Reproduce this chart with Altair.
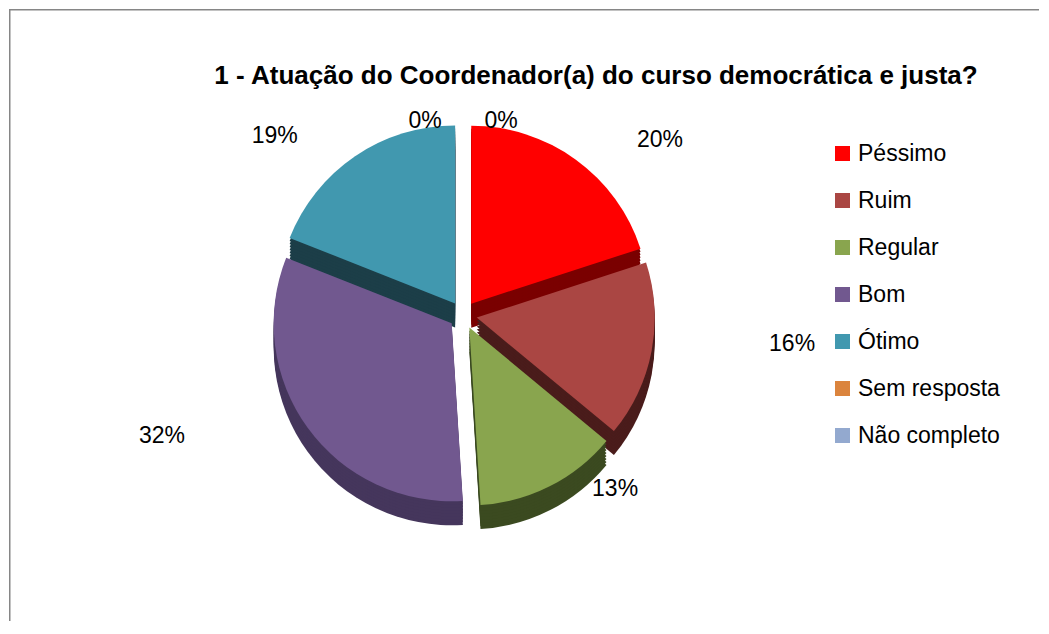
import altair as alt
import pandas as pd

# ---- data ----
categories = ["Péssimo", "Ruim", "Regular", "Bom", "Ótimo", "Sem resposta", "Não completo"]
percentages = [20, 16, 13, 32, 19, 0, 0]
colors = ["#FF0000", "#AA4643", "#89A54E", "#71588F", "#4198AF", "#DB843D", "#93A9CF"]
side_colors = ["#7A0000", "#4A1C1B", "#3B4A20", "#45365C", "#1C3E48", "#8A4F22", "#5A6A85"]
labels = [f"{p}%" for p in percentages]
title_text = "1 - Atuação do Coordenador(a) do curso democrática e justa?"

df = pd.DataFrame({
    "cat": categories,
    "value": percentages,
    "idx": list(range(len(categories))),
    "side": side_colors,
    "label": labels,
})

W, H = 1030, 612
CX, CY = 454, 306      # pie centre (px)
R = 178                # pie radius
EXPLODE = 14           # slice explosion distance
DEPTH = 24             # fake 3D thickness
LCX, LCY, LRX, LRY = 454, 297, 335, 205   # label ellipse
FONT = "Liberation Sans"

theta_scale = alt.Scale(domain=[0, 100], range=[0, 6.283185307])

base = (
    alt.Chart(df)
    .transform_window(cum="sum(value)", sort=[alt.SortField("idx")])
    .transform_calculate(
        start="datum.cum - datum.value",
        mid="(datum.cum - datum.value / 2) / 100 * 2 * PI",
    )
    .transform_calculate(
        px=f"{CX} + {EXPLODE} * sin(datum.mid)",
        py=f"{CY} - {EXPLODE} * cos(datum.mid)",
        lx=f"{LCX} + {LRX} * sin(datum.mid) + (datum.idx == 5 ? -38 : (datum.idx == 6 ? 38 : 0)) + (datum.idx == 3 ? -30 : 0)",
        ly=f"{LCY} - {LRY} * cos(datum.mid) + (datum.value == 0 ? 20 : 0) + (datum.idx == 3 ? 10 : 0)",
    )
)

# side (depth) layers
side_layers = []
for k in range(DEPTH, 0, -3):
    side_layers.append(
        base.transform_calculate(pyk=f"datum.py + {k}")
        .mark_arc(radius=R)
        .encode(
            theta=alt.Theta("start:Q", scale=theta_scale),
            theta2="cum:Q",
            x=alt.X("px:Q", scale=None),
            y=alt.Y("pyk:Q", scale=None),
            color=alt.Color("side:N", scale=None, legend=None),
        )
    )
sides = alt.layer(*side_layers)

# top faces with legend
top = base.mark_arc(radius=R).encode(
    theta=alt.Theta("start:Q", scale=theta_scale),
    theta2="cum:Q",
    x=alt.X("px:Q", scale=None),
    y=alt.Y("py:Q", scale=None),
    color=alt.Color(
        "cat:N",
        scale=alt.Scale(domain=categories, range=colors),
        legend=alt.Legend(
            title=None,
            orient="none",
            legendX=822,
            legendY=133,
            symbolType="square",
            symbolSize=225,
            symbolStrokeWidth=0,
            labelFontSize=23,
            labelFont=FONT,
            labelColor="black",
            labelOffset=4,
            rowPadding=23,
            labelLimit=300,
        ),
    ),
)

text = base.mark_text(font=FONT, fontSize=23, color="black").encode(
    x=alt.X("lx:Q", scale=None),
    y=alt.Y("ly:Q", scale=None),
    text="label:N",
)

frame_df = pd.DataFrame({"a": [0]})
top_rule = alt.Chart(frame_df).mark_rule(color="#868686", strokeWidth=1.5).encode(
    x=alt.value(0), x2=alt.value(W), y=alt.value(0.75)
)
left_rule = alt.Chart(frame_df).mark_rule(color="#868686", strokeWidth=1.5).encode(
    x=alt.value(0.75), y=alt.value(0), y2=alt.value(H)
)
title = alt.Chart(frame_df).mark_text(
    font=FONT, fontSize=26, fontWeight="bold", color="black"
).encode(x=alt.value(587), y=alt.value(67), text=alt.value(title_text))

chart = (
    alt.layer(sides, top, text, top_rule, left_rule, title)
    .resolve_scale(color="independent")
    .properties(width=W, height=H, padding=0, background="white")
    .configure_view(stroke=None)
)

chart.save("out.html", embed_options={"renderer": "svg", "actions": False})
